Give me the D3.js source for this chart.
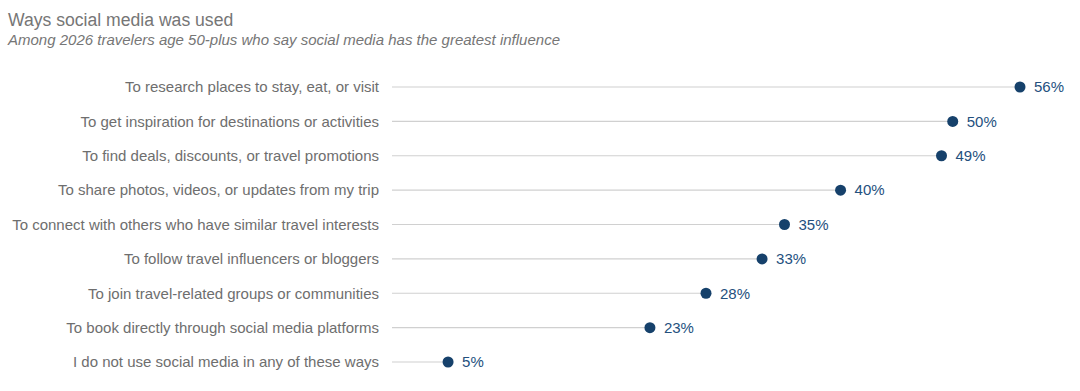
<!DOCTYPE html>
<html>
<head>
  <meta charset="utf-8">
  <title>Ways social media was used</title>
  <style>
    body { margin: 0; background: #fff; font-family: "Liberation Sans", Arial, sans-serif; }
  </style>
</head>
<body>
  <div id="chart"></div>
  <script src="https://cdn.jsdelivr.net/npm/d3@7"></script>
  <script>
    // data
    const categories = [
      "To research places to stay, eat, or visit",
      "To get inspiration for destinations or activities",
      "To find deals, discounts, or travel promotions",
      "To share photos, videos, or updates from my trip",
      "To connect with others who have similar travel interests",
      "To follow travel influencers or bloggers",
      "To join travel-related groups or communities",
      "To book directly through social media platforms",
      "I do not use social media in any of these ways"
    ];
    const values = [56, 50, 49, 40, 35, 33, 28, 23, 5];

    const width = 1080, height = 391;
    const margin = { top: 70, right: 60, bottom: 12, left: 392 };

    const svg = d3.select("#chart").append("svg")
      .attr("width", width)
      .attr("height", height);

    // titles
    svg.append("text")
      .attr("x", 8).attr("y", 26)
      .attr("fill", "#767676")
      .style("font-size", "17.6px")
      .text("Ways social media was used");
    svg.append("text")
      .attr("x", 8).attr("y", 45)
      .attr("fill", "#767676")
      .style("font-size", "15px")
      .style("font-style", "italic")
      .text("Among 2026 travelers age 50-plus who say social media has the greatest influence");

    const x = d3.scaleLinear()
      .domain([0, 56])
      .range([margin.left, 1020]);

    const y = d3.scalePoint()
      .domain(categories)
      .range([87, 362]);

    const rows = svg.append("g")
      .selectAll("g")
      .data(categories)
      .join("g")
      .attr("transform", d => `translate(0,${y(d)})`);

    // stems
    rows.append("line")
      .attr("x1", x(0))
      .attr("x2", (d, i) => x(values[i]))
      .attr("stroke", "#d0d0d0")
      .attr("stroke-width", 1.2);

    // category labels
    rows.append("text")
      .attr("x", 379)
      .attr("dy", "0.35em")
      .attr("text-anchor", "end")
      .attr("fill", "#6e6e6e")
      .style("font-size", "15px")
      .text(d => d);

    // dots
    rows.append("circle")
      .attr("cx", (d, i) => x(values[i]))
      .attr("r", 5.5)
      .attr("fill", "#16416b");

    // value labels
    rows.append("text")
      .attr("x", (d, i) => x(values[i]) + 14)
      .attr("dy", "0.35em")
      .attr("fill", "#24507e")
      .style("font-size", "15px")
      .text((d, i) => values[i] + "%");
  </script>
</body>
</html>
